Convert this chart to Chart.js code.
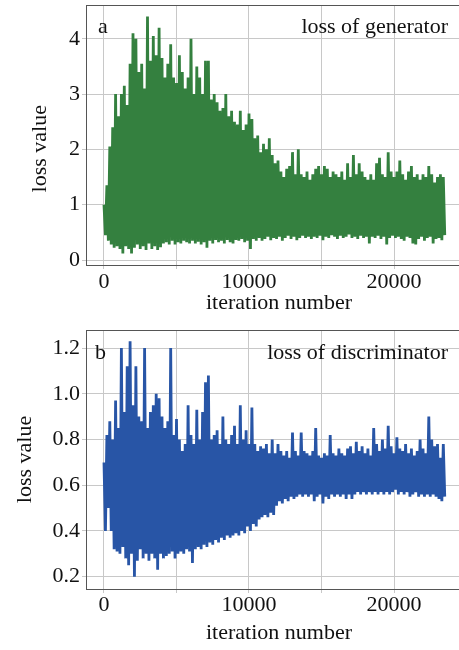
<!DOCTYPE html>
<html lang="en">
<head>
    <meta charset="UTF-8">
    <title>GAN loss curves</title>
    <script src="https://cdn.jsdelivr.net/npm/chart.js"></script>
    <style>
        html, body { margin: 0; padding: 0; overflow: hidden; background: #fff; }
        canvas { display: block; }
    </style>
</head>
<body>
    <canvas id="genChart" width="472" height="320"></canvas>
    <canvas id="discChart" width="472" height="330"></canvas>

    <script>
        // Sampling: each bin of 200 iterations gives one max (at i*200) and one min (at i*200+100)
        const binSize = 200;

        // Generator loss, bin maxima and minima
        const genHigh = [
            1.0, 1.35, 2.05, 2.4, 3.0, 2.6, 3.0, 3.15, 2.8, 3.55,
            4.1, 4.0, 3.4, 3.55, 3.1, 4.4, 3.6, 4.05, 3.7, 4.2,
            3.65, 3.3, 3.55, 3.9, 3.3, 3.2, 3.7, 3.4, 3.1, 3.3,
            4.0, 3.0, 3.5, 3.3, 3.0, 3.6, 3.6, 2.9, 3.0, 2.85,
            2.7, 2.75, 3.0, 2.6, 2.7, 2.5, 2.45, 2.7, 2.35, 2.45,
            2.65, 2.55, 2.2, 2.25, 1.95, 2.1, 2.0, 2.2, 1.9, 1.75,
            1.8, 1.6, 1.5, 1.65, 1.7, 1.95, 1.55, 2.0, 1.55, 1.5,
            1.6, 1.45, 1.55, 1.65, 1.7, 1.55, 1.7, 1.65, 1.5, 1.6,
            1.55, 1.5, 1.6, 1.45, 1.75, 1.5, 1.9, 1.55, 1.75, 1.6,
            1.5, 1.45, 1.55, 1.45, 1.75, 1.85, 1.55, 1.5, 1.95, 1.6,
            1.5, 1.6, 1.8, 1.55, 1.45, 1.6, 1.7, 1.5, 1.55, 1.45,
            1.55, 1.5, 1.7, 1.55, 1.4, 1.5, 1.55, 1.5
        ];
        const genLow = [
            0.45, 0.35, 0.28, 0.22, 0.25, 0.2, 0.12, 0.25, 0.2, 0.12,
            0.22, 0.28, 0.2, 0.25, 0.18, 0.3, 0.2, 0.25, 0.18, 0.23,
            0.3, 0.32, 0.28, 0.35, 0.28, 0.32, 0.3, 0.35, 0.32, 0.3,
            0.35, 0.3, 0.33, 0.28, 0.32, 0.22, 0.35, 0.3, 0.36, 0.32,
            0.35, 0.3, 0.36, 0.32, 0.3, 0.36, 0.35, 0.38, 0.32, 0.35,
            0.2, 0.38, 0.35, 0.4, 0.35, 0.38, 0.42, 0.36, 0.4, 0.38,
            0.42, 0.35, 0.4, 0.44, 0.38, 0.42, 0.36, 0.4, 0.44, 0.4,
            0.42, 0.38, 0.42, 0.4, 0.44, 0.36, 0.42, 0.4, 0.45, 0.42,
            0.38, 0.44, 0.4, 0.42, 0.46, 0.4, 0.42, 0.38, 0.44, 0.4,
            0.42, 0.3, 0.42, 0.4, 0.44, 0.38, 0.42, 0.28, 0.4, 0.44,
            0.4, 0.42, 0.38, 0.35, 0.42, 0.4, 0.3, 0.28, 0.38, 0.42,
            0.35, 0.4, 0.42, 0.3, 0.38, 0.4, 0.36, 0.45
        ];

        // Discriminator loss, same binning
        const discHigh = [
            0.7, 0.82, 0.88, 0.8, 0.97, 0.85, 1.2, 0.92, 1.12, 1.23,
            0.95, 1.12, 0.9, 0.88, 1.2, 0.85, 0.92, 0.95, 1.0, 0.98,
            0.9, 0.85, 0.88, 1.2, 0.82, 0.89, 0.8, 0.75, 0.78, 0.95,
            0.82, 0.78, 0.93, 0.8, 0.92, 1.05, 1.08, 0.8, 0.82, 0.84,
            0.78, 0.9, 0.8, 0.78, 0.82, 0.86, 0.78, 0.95, 0.8, 0.84,
            0.78, 0.94, 0.78, 0.75, 0.77, 0.76, 0.78, 0.74, 0.8, 0.74,
            0.78, 0.75, 0.73, 0.75, 0.72, 0.83, 0.75, 0.73, 0.83, 0.75,
            0.74, 0.73, 0.75, 0.85, 0.73, 0.72, 0.74, 0.73, 0.82, 0.74,
            0.73, 0.76, 0.74, 0.73, 0.76, 0.77, 0.74, 0.79, 0.75, 0.77,
            0.74, 0.76, 0.73, 0.85, 0.78, 0.75, 0.8, 0.76, 0.86, 0.77,
            0.74, 0.81, 0.76, 0.75, 0.78, 0.74, 0.76, 0.73, 0.75, 0.8,
            0.76, 0.74, 0.9, 0.8, 0.77, 0.78, 0.72, 0.78
        ];
        const discLow = [
            0.4, 0.5, 0.4, 0.32, 0.31, 0.3, 0.33, 0.28, 0.25, 0.3,
            0.2, 0.27, 0.32, 0.28, 0.3, 0.27, 0.3, 0.28, 0.23, 0.3,
            0.28, 0.29, 0.3, 0.31, 0.28, 0.3, 0.31, 0.3, 0.32, 0.31,
            0.26, 0.32, 0.33, 0.32, 0.34, 0.33, 0.35, 0.34, 0.36, 0.35,
            0.37, 0.36, 0.38, 0.37, 0.38, 0.39, 0.38, 0.4, 0.39, 0.42,
            0.4, 0.43, 0.42, 0.45, 0.46, 0.47, 0.46, 0.48, 0.47, 0.51,
            0.53, 0.52, 0.54, 0.53, 0.55, 0.54, 0.55, 0.56, 0.55, 0.56,
            0.55, 0.56, 0.53, 0.55, 0.56, 0.52, 0.55, 0.54, 0.56, 0.55,
            0.56, 0.55, 0.56, 0.54, 0.56, 0.54, 0.56, 0.57, 0.56, 0.57,
            0.56, 0.57, 0.56, 0.57, 0.56, 0.57, 0.56, 0.57, 0.56, 0.57,
            0.58, 0.56, 0.57, 0.56, 0.57, 0.55, 0.56, 0.57, 0.55, 0.56,
            0.55, 0.56, 0.55, 0.56, 0.55, 0.54, 0.53, 0.55
        ];

        // Axis ticks
        const xTicks = [0, 5000, 10000, 15000, 20000, 25000];
        const xTickLabels = ['0', '', '10000', '', '20000', ''];
        const genYTicks = [0, 1, 2, 3, 4];
        const genYTickLabels = ['0', '1', '2', '3', '4'];
        const discYTicks = [0.2, 0.4, 0.6, 0.8, 1.0, 1.2];
        const discYTickLabels = ['0.2', '0.4', '0.6', '0.8', '1.0', '1.2'];

        const FONT = 'Liberation Serif, Times New Roman, serif';
        const GRID = '#c8c8c8';
        const BORDER = '#555555';

        // zig-zag between bin max and bin min so the trace looks like the dense raw curve
        function buildSeries(high, low) {
            const pts = [];
            for (let i = 0; i < high.length; i++) {
                pts.push({ x: i * binSize, y: high[i] });
                if (i < low.length) pts.push({ x: i * binSize + binSize / 2, y: low[i] });
            }
            return pts;
        }

        // top border line + the "a / loss of ..." labels inside the plot
        const panelDeco = {
            id: 'panelDeco',
            afterDraw(chart, args, opts) {
                const { ctx, chartArea } = chart;
                ctx.save();
                ctx.strokeStyle = BORDER;
                ctx.lineWidth = 1;
                ctx.beginPath();
                ctx.moveTo(chartArea.left, chartArea.top + 0.5);
                ctx.lineTo(chartArea.right, chartArea.top + 0.5);
                ctx.stroke();

                ctx.fillStyle = '#111';
                ctx.font = '22px ' + FONT;
                ctx.textBaseline = 'middle';
                ctx.textAlign = 'left';
                ctx.fillText(opts.letter, chartArea.left + opts.letterX, chartArea.top + opts.textY);
                ctx.textAlign = 'right';
                ctx.fillText(opts.text, chartArea.left + 362, chartArea.top + opts.textY);
                ctx.restore();
            }
        };

        function makeChart(id, cfg) {
            const ctx = document.getElementById(id).getContext('2d');
            return new Chart(ctx, {
                type: 'line',
                data: {
                    datasets: [{
                        data: buildSeries(cfg.high, cfg.low),
                        borderColor: cfg.color,
                        borderWidth: 2.8,
                        pointRadius: 0,
                        tension: 0,
                        fill: false
                    }]
                },
                options: {
                    responsive: false,
                    animation: false,
                    events: [],
                    layout: { padding: { top: cfg.padTop, left: 0, right: 0, bottom: 0 } },
                    plugins: {
                        legend: { display: false },
                        tooltip: { enabled: false },
                        panelDeco: { letter: cfg.letter, text: cfg.label, letterX: cfg.letterX, textY: cfg.textY }
                    },
                    scales: {
                        x: {
                            type: 'linear',
                            min: -1241,
                            max: 25379,
                            afterFit: s => {
                                s.height = cfg.xAxisHeight;
                                s.paddingLeft = 0; s.paddingRight = 0;
                            },
                            afterBuildTicks: s => { s.ticks = xTicks.map(v => ({ value: v })); },
                            grid: { color: GRID, lineWidth: 1, tickLength: 4 },
                            border: { color: BORDER, width: 1 },
                            ticks: {
                                color: '#111',
                                padding: cfg.xTickPad,
                                maxRotation: 0,
                                autoSkip: false,
                                font: { family: FONT, size: 22, lineHeight: 1 },
                                callback: v => xTickLabels[xTicks.indexOf(v)]
                            },
                            title: {
                                display: true,
                                text: 'iteration number',
                                color: '#111',
                                font: { family: FONT, size: 22, lineHeight: 1 },
                                padding: { top: 0, bottom: 6 }
                            }
                        },
                        y: {
                            min: cfg.yMin,
                            max: cfg.yMax,
                            afterFit: s => {
                                s.width = 86;
                                // labels sit well inside the range, no extra room needed
                                s.paddingTop = 0; s.paddingBottom = 0;
                            },
                            afterBuildTicks: s => { s.ticks = cfg.yTicks.map(v => ({ value: v })); },
                            grid: { color: GRID, lineWidth: 1, tickLength: 4 },
                            border: { color: BORDER, width: 1 },
                            ticks: {
                                color: '#111',
                                padding: 2,
                                autoSkip: false,
                                font: { family: FONT, size: 22, lineHeight: 1 },
                                callback: v => cfg.yTickLabels[cfg.yTicks.findIndex(t => Math.abs(t - v) < 1e-9)]
                            },
                            title: {
                                display: true,
                                text: cfg.yTitle,
                                color: '#111',
                                font: { family: FONT, size: 22, lineHeight: 1 },
                                padding: { top: cfg.yTitlePad, bottom: 0 }
                            }
                        }
                    }
                },
                plugins: [panelDeco]
            });
        }

        makeChart('genChart', {
            high: genHigh, low: genLow, color: '#34803f',
            yMin: -0.09, yMax: 4.61, yTicks: genYTicks, yTickLabels: genYTickLabels,
            padTop: 5, xAxisHeight: 55, xTickPad: 2,
            yTitle: 'loss value     ', // trailing spaces push the label a bit lower, as in the figure
            yTitlePad: 29,
            letter: 'a', letterX: 12, label: 'loss of generator', textY: 22
        });

        makeChart('discChart', {
            high: discHigh, low: discLow, color: '#2855a6',
            yMin: 0.146, yMax: 1.279, yTicks: discYTicks, yTickLabels: discYTickLabels,
            padTop: 10, xAxisHeight: 61, xTickPad: 1,
            yTitle: 'loss value', yTitlePad: 14,
            letter: 'b', letterX: 9, label: 'loss of discriminator', textY: 23
        });
    </script>
</body>
</html>
